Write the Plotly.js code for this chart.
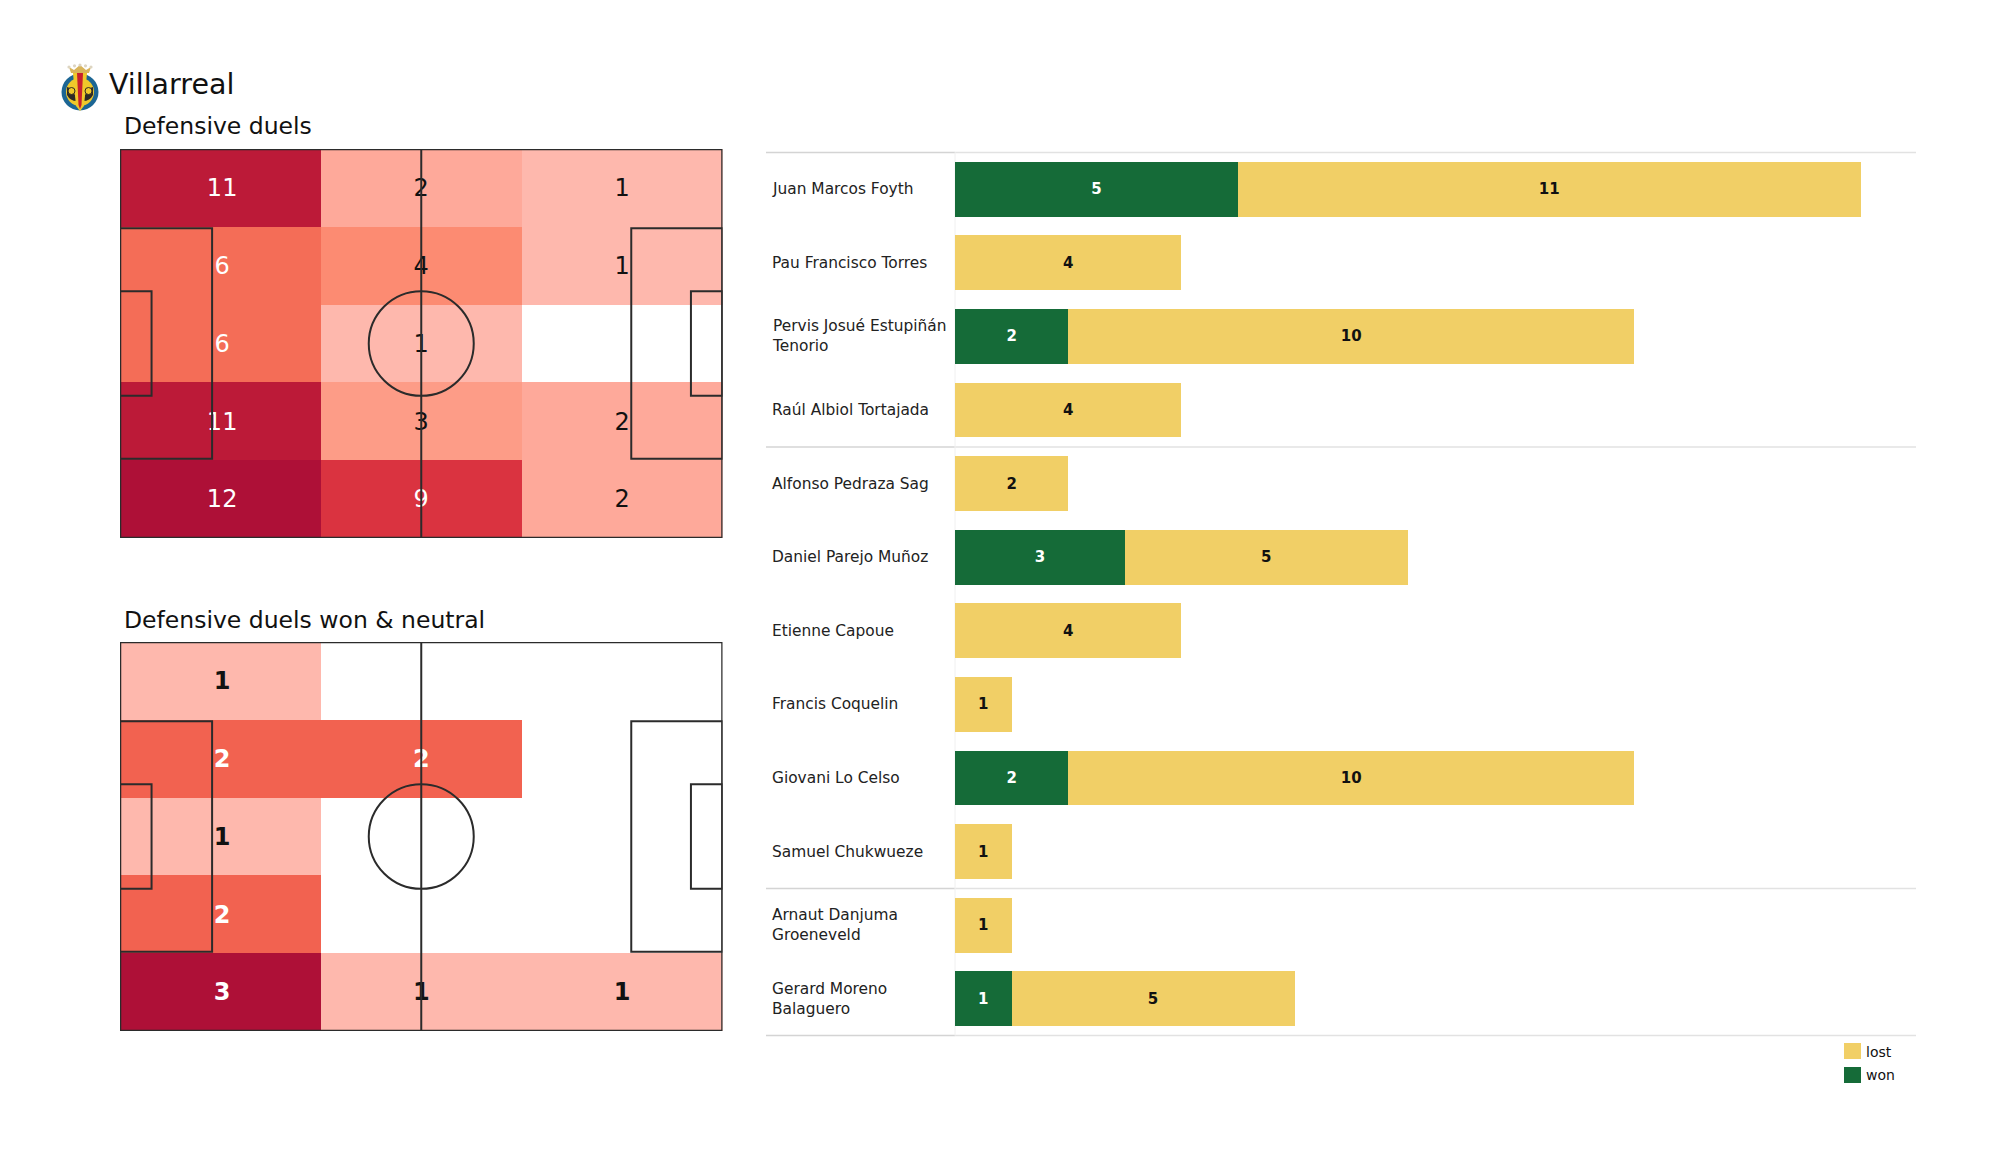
<!DOCTYPE html>
<html>
<head>
<meta charset="utf-8">
<script src="https://cdn.plot.ly/plotly-3.0.1.min.js"></script>
<style>html,body{margin:0;padding:0;background:#fff}#chart{width:2000px;height:1175px}</style>
</head>
<body>
<div id="chart"></div>
<script>
const teamName = "Villarreal";
const panelTitleA = "Defensive duels";
const panelTitleB = "Defensive duels won & neutral";
const zoneX = [17.5, 52.5, 87.5];
const zoneY = [6.8, 20.4, 34, 47.6, 61.2];
const labelX = [17.8, 52.5, 87.5];
const labelY = [7.2, 20.8, 34.4, 48, 61.6];
const duelsAll = [[11,2,1],[6,4,1],[6,1,0],[11,3,2],[12,9,2]];
const duelsWon = [[1,0,0],[2,2,0],[1,0,0],[2,0,0],[3,1,1]];
const scaleAll = [[0,'#ffffff'],[1/12,'#feb8ad'],[2/12,'#fea99a'],[3/12,'#fd9c87'],[4/12,'#fc8b72'],[6/12,'#f46d57'],[9/12,'#da3340'],[11/12,'#bc1a38'],[1,'#ae1037']];
const scaleWon = [[0,'#ffffff'],[1/3,'#feb8ad'],[2/3,'#f26250'],[1,'#ae1037']];
const players = ["Juan Marcos Foyth","Pau Francisco Torres","Pervis Josué Estupiñán<br>Tenorio","Raúl Albiol Tortajada","Alfonso Pedraza Sag","Daniel Parejo Muñoz","Etienne Capoue","Francis Coquelin","Giovani Lo Celso","Samuel Chukwueze","Arnaut Danjuma<br>Groeneveld","Gerard Moreno<br>Balaguero"];
const won  = [5,0,2,0,0,3,0,0,2,0,0,1];
const lost = [11,4,10,4,2,5,4,1,10,1,1,5];
const wonColor = '#156b38', lostColor = '#f1cf66';
const W = 2000, H = 1175, font = 'DejaVu Sans', ink = '#2b2b2b';
const px = v => v / W, py = v => 1 - v / H;

function heat(z, scale, ax, ay, whiteFrom, weight) {
  const tx = [], ty = [], tt = [], tc = [];
  z.forEach((r, i) => r.forEach((v, j) => { if (v > 0) { tx.push(labelX[j]); ty.push(labelY[i]); tt.push(String(v)); tc.push(v >= whiteFrom ? '#ffffff' : '#111111'); } }));
  return [
    {type:'heatmap', x:zoneX, y:zoneY, z:z, xaxis:ax, yaxis:ay, colorscale:scale, zmin:0, zmax:Math.max(...z.flat()), showscale:false, hoverongaps:false, xgap:0, ygap:0},
    {type:'scatter', mode:'text', x:tx, y:ty, text:tt, xaxis:ax, yaxis:ay, cliponaxis:false, textposition:'middle center', textfont:{family:font, size:24, color:tc, weight:weight}, showlegend:false, hoverinfo:'skip'}
  ];
}
const vals = a => a.map(v => v > 0 ? v : null);
const labs = a => a.map(v => v > 0 ? String(v) : '');
const bar = (name, arr, color, tcolor) => ({type:'bar', orientation:'h', name:name, y:players, x:vals(arr), text:labs(arr), xaxis:'x3', yaxis:'y3', marker:{color:color, line:{width:0}}, width:0.747, textposition:'inside', insidetextanchor:'middle', textangle:0, constraintext:'none', insidetextfont:{family:font, size:15, color:tcolor, weight:700}, showlegend:false, cliponaxis:false});

const traces = [
  ...heat(duelsAll, scaleAll, 'x', 'y', 6, 400),
  ...heat(duelsWon, scaleWon, 'x2', 'y2', 2, 700),
  bar('won', won, wonColor, '#ffffff'),
  bar('lost', lost, lostColor, '#111111')
];

function pitch(x, y) {
  const l = {color:ink, width:2};
  const rect = (x0,x1,y0,y1,w) => ({type:'rect', xref:x, yref:y, x0, x1, y0, y1, line:{color:ink, width:w||2}, layer:'above'});
  return [
    rect(0,105,0,68,2.5), rect(0,16.05,13.85,54.15), rect(89.1,105,13.85,54.15), rect(0,5.5,24.85,43.15), rect(99.5,105,24.85,43.15),
    {type:'line', xref:x, yref:y, x0:52.5, x1:52.5, y0:0, y1:68, line:l, layer:'above'},
    {type:'circle', xref:x, yref:y, x0:43.35, x1:61.65, y0:24.85, y1:43.15, line:l, layer:'above'}
  ];
}
const hline = (y, c, x0, x1) => ({type:'line', xref:'paper', yref:'paper', x0:px(x0), x1:px(x1), y0:py(y), y1:py(y), line:{color:c, width:1.5}, layer:'below'});
const shapes = [
  ...pitch('x','y'), ...pitch('x2','y2'),
  ...[152.4, 447, 888.4, 1035.6].flatMap(y => [hline(y,'#d4d4d4',766,955), hline(y,'#e2e2e2',955,1916)]),
  {type:'line', xref:'paper', yref:'paper', x0:px(955), x1:px(955), y0:py(152.4), y1:py(1035.6), line:{color:'#f0f0f0', width:1}, layer:'below'},
  {type:'rect', xref:'paper', yref:'paper', x0:px(1844), x1:px(1861), y0:py(1043), y1:py(1059), fillcolor:lostColor, line:{width:0}},
  {type:'rect', xref:'paper', yref:'paper', x0:px(1844), x1:px(1861), y0:py(1067), y1:py(1083), fillcolor:wonColor, line:{width:0}}
];
const note = (text, x, y, size) => ({text, xref:'paper', yref:'paper', x:px(x), y:py(y), xanchor:'left', yanchor:'middle', align:'left', showarrow:false, font:{family:font, size, color:'#111111'}});
const annotations = [
  note(teamName, 107, 84, 28.5), note(panelTitleA, 121.5, 125.5, 23.5), note(panelTitleB, 121.5, 620, 23.5),
  note('lost', 1864, 1052, 14), note('won', 1864, 1075, 14),
  ...players.map(p => ({text:p, xref:'paper', yref:'y3', x:px(770), y:p, xanchor:'left', yanchor:'middle', align:'left', showarrow:false, font:{family:font, size:15.4, color:'#222222'}}))
];
const crest = `<svg xmlns="http://www.w3.org/2000/svg" viewBox="0 0 38 48" width="152" height="192">
<path d="M10 10 L8 4 L13 7 L19 2 L25 7 L30 4 L28 10 Z" fill="#d9b45a"/>
<g fill="#ddd5c2"><circle cx="8" cy="4" r="1.600"/><circle cx="13.500" cy="2.800" r="1.600"/><circle cx="19" cy="2" r="1.600"/><circle cx="24.500" cy="2.800" r="1.600"/><circle cx="30" cy="4" r="1.600"/></g>
<circle cx="19" cy="29" r="18.500" fill="#1c6694"/><circle cx="19" cy="29" r="14" fill="#f0c82a"/>
<path d="M6 24 Q12 24 16 38 Q9 38 6 32 Z M32 24 Q26 24 22 38 Q29 38 32 32 Z" fill="#2d2a26"/>
<path d="M12 10 H26 L23 43 L19 48 L15 43 Z" fill="#f0c82a"/>
<path d="M16 10 H22 L20.500 42 L19 46 L17.500 42 Z" fill="#c8202c"/>
<circle cx="10.500" cy="28" r="3.500" fill="#f0c82a" stroke="#2d2a26"/><circle cx="27.500" cy="28" r="3.500" fill="#f0c82a" stroke="#2d2a26"/></svg>`;
const axisOff = {showgrid:false, zeroline:false, showticklabels:false, ticks:'', showline:false, fixedrange:true};
const layout = {
  width:W, height:H, margin:{l:0,r:0,t:0,b:0}, paper_bgcolor:'#ffffff', plot_bgcolor:'rgba(0,0,0,0)', showlegend:false, barmode:'stack', bargap:0.253, font:{family:font},
  xaxis:{...axisOff, domain:[px(120),px(722.5)], range:[0,105]},
  yaxis:{...axisOff, domain:[py(538),py(149)], range:[68,0]},
  xaxis2:{...axisOff, domain:[px(120),px(722.5)], range:[0,105]},
  yaxis2:{...axisOff, domain:[py(1031),py(642)], range:[68,0]},
  xaxis3:{...axisOff, domain:[px(955),px(1916)], range:[0,16.98]},
  yaxis3:{...axisOff, domain:[py(1035.6),py(152.4)], type:'category', categoryorder:'array', categoryarray:players, range:[11.5,-0.5]},
  shapes, annotations,
  images:[{source:'data:image/svg+xml;charset=utf-8,'+encodeURIComponent(crest), xref:'paper', yref:'paper', x:px(61), y:py(63), sizex:38/W, sizey:48/H, xanchor:'left', yanchor:'top', sizing:'contain', layer:'above'}]
};
Plotly.newPlot('chart', traces, layout, {displayModeBar:false, staticPlot:true});
</script>
</body>
</html>
